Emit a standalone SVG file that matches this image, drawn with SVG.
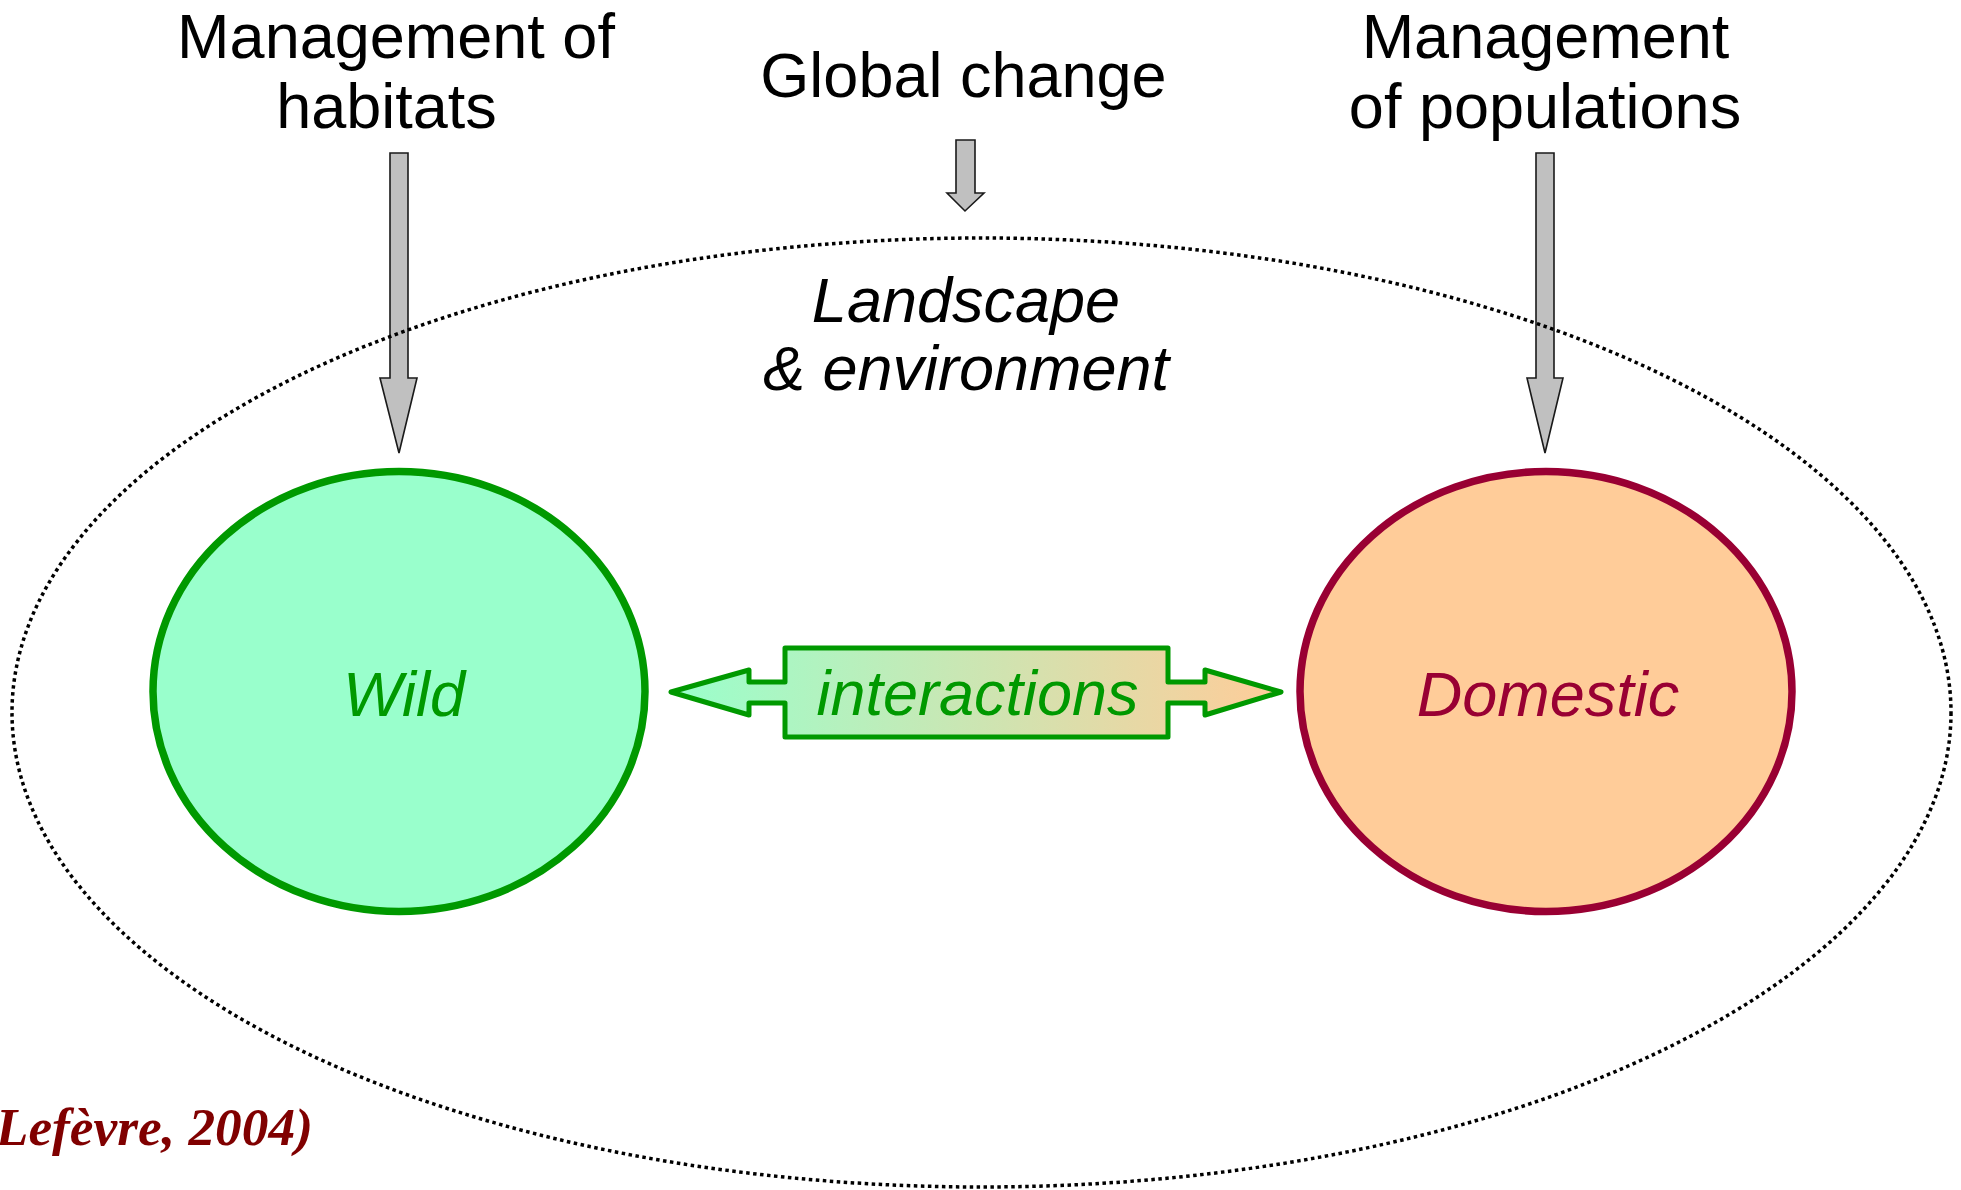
<svg xmlns="http://www.w3.org/2000/svg" width="1961" height="1190" viewBox="0 0 1961 1190">
<style>
.title{font-family:"Liberation Sans",Arial,sans-serif;font-size:63px;fill:#000;text-anchor:middle}
.ital{font-family:"Liberation Sans",Arial,sans-serif;font-size:63px;font-style:italic;text-anchor:middle}
.garrow{fill:#c0c0c0;stroke:#1a1a1a;stroke-width:1.6;stroke-linejoin:miter}
.ref{font-family:"Liberation Serif","Times New Roman",serif;font-size:52px;font-weight:bold;font-style:italic;fill:#800000}
</style>
<defs>
<linearGradient id="ig" gradientUnits="userSpaceOnUse" x1="671" y1="0" x2="1281" y2="0">
<stop offset="0" stop-color="#99ffcc"/>
<stop offset="1" stop-color="#ffcc99"/>
</linearGradient>
</defs>
<rect width="1961" height="1190" fill="#fff"/>
<g id="connectors">
<polygon class="garrow" points="390,153 408,153 408,378 417,378 399,453 380,378 390,378"/>
<polygon class="garrow" points="956,140 975,140 975,193 984,193 965,211 947,193 956,193"/>
<polygon class="garrow" points="1536,153 1554,153 1554,378 1563,378 1545,453 1527,378 1536,378"/>
</g>
<g id="landscape">
<ellipse cx="981.5" cy="712.5" rx="969.5" ry="474.5" fill="none" stroke="#000" stroke-width="3.5" stroke-dasharray="3.5 3.5"/>
<text class="ital" x="966" y="322" fill="#000">Landscape</text>
<text class="ital" x="966" y="390" fill="#000">&amp; environment</text>
</g>
<g id="mgmt-habitats">
<text class="title" x="396" y="58">Management of</text>
<text class="title" x="386.5" y="128">habitats</text>
</g>
<g id="global-change">
<text class="title" x="963.5" y="97">Global change</text>
</g>
<g id="mgmt-populations">
<text class="title" x="1545.5" y="58">Management</text>
<text class="title" x="1545" y="128">of populations</text>
</g>
<g id="wild">
<ellipse cx="399" cy="691.5" rx="246" ry="220" fill="#99ffcc" stroke="#009900" stroke-width="7.5"/>
<text class="ital" x="404" y="716" fill="#009900" font-size="65">Wild</text>
</g>
<g id="domestic">
<ellipse cx="1546" cy="691.5" rx="246" ry="220" fill="#ffcc99" stroke="#990033" stroke-width="7.5"/>
<text class="ital" x="1548" y="716" fill="#990033">Domestic</text>
</g>
<g id="interactions">
<path d="M671,692 L749,670 L749,682 L785,682 L785,648 L1168,648 L1168,682 L1205,682 L1205,670 L1281,692 L1205,715 L1205,703 L1168,703 L1168,737 L785,737 L785,703 L749,703 L749,715 Z" fill="url(#ig)" stroke="#009900" stroke-width="5" stroke-linejoin="round"/>
<text class="ital" x="977.5" y="715" fill="#009900">interactions</text>
</g>
<g id="reference">
<text class="ref" x="-22" y="1145" textLength="335" lengthAdjust="spacingAndGlyphs">(Lefèvre, 2004)</text>
</g>
</svg>
